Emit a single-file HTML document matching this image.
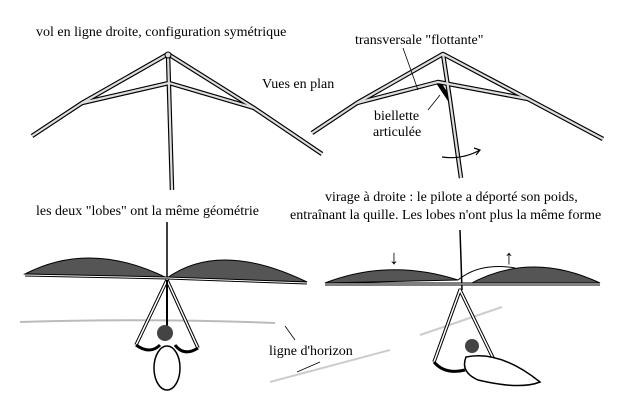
<!DOCTYPE html>
<html><head><meta charset="utf-8"><style>
html,body{margin:0;padding:0;background:#fff;}
svg{display:block;}
svg text{font-family:"Liberation Serif","DejaVu Serif",Times,serif !important;font-size:14px;}
.t{stroke:#000;stroke-width:4.5;fill:none;stroke-linecap:butt;stroke-linejoin:round;}
.w{stroke:#ddd;stroke-width:2.2;fill:none;stroke-linecap:butt;stroke-linejoin:round;}
.tw{stroke:#fff;stroke-width:2.6;fill:none;}
</style></head><body>
<svg width="621" height="400" viewBox="0 0 621 400" xmlns="http://www.w3.org/2000/svg">
<rect width="621" height="400" fill="#fff"/>
<g>
<path class="t" d="M32,136 L82,103 L168,54 L254,108 L322,154"/>
<path class="t" d="M82,103 L169,83 L254,108"/>
<path class="t" d="M168,54 L172,190"/>
<path class="w" d="M32,136 L82,103 L168,54 L254,108 L322,154"/>
<path class="w" d="M82,103 L169,83 L254,108"/>
<path class="w" d="M168,54 L172,190"/>
<circle cx="168" cy="55" r="3" fill="#ddd" stroke="#000"/>
</g>
<g>
<path class="t" d="M312,133 L357,103 L443,54 L528,99 L603,139"/>
<path class="t" d="M357,103 L438,82 L528,99"/>
<path class="t" d="M443,54 L450,100 L461,178"/>
<path class="t" d="M438,82 L450,100"/>
<path class="w" d="M312,133 L357,103 L443,54 L528,99 L603,139"/>
<path class="w" d="M357,103 L438,82 L528,99"/>
<path class="w" d="M443,54 L450,100 L461,178"/>
<path d="M403,48 L418,90" stroke="#000" stroke-width="0.8"/>
<path d="M440,95 L428,110" stroke="#000" stroke-width="0.8"/>
<path d="M442,157 Q462,160 480,150" stroke="#000" stroke-width="1.2" fill="none"/>
<path d="M474,148 L480,150 L476,155" stroke="#000" stroke-width="1.2" fill="none"/>
</g>
<text x="36" y="36">vol en ligne droite, configuration symétrique</text>
<text x="355" y="44">transversale "flottante"</text>
<text x="262" y="88">Vues en plan</text>
<text x="374" y="120">biellette</text>
<text x="373" y="136">articulée</text>
<text x="36" y="215">les deux "lobes" ont la même géométrie</text>
<text x="325" y="201">virage à droite : le pilote a déporté son poids,</text>
<text x="290" y="219">entraînant la quille. Les lobes n'ont plus la même forme</text>
<text x="269" y="355">ligne d'horizon</text>
<text x="389" y="264" style="font-size:20px">↓</text>
<text x="504" y="264" style="font-size:20px">↑</text>
<path d="M20,322 Q150,318 275,323" stroke="#bbb" stroke-width="2" fill="none"/>
<path d="M270,382 L390,350" stroke="#ccc" stroke-width="2" fill="none"/>
<path d="M420,335 L502,307" stroke="#ccc" stroke-width="2" fill="none"/>
<path d="M295,340 L285,326" stroke="#000" stroke-width="0.8"/>
<path d="M320,362 L297,372" stroke="#000" stroke-width="0.8"/>
<path d="M167,222 L167,280" stroke="#000" stroke-width="1.5"/>
<path d="M25,274 Q90,240 167,278 Z" fill="#555" stroke="#000"/>
<path d="M167,278 Q220,240 307,282 Z" fill="#555" stroke="#000"/>
<path d="M25,275 L167,278 L307,283" stroke="#000" stroke-width="3" fill="none"/>
<path d="M25,275 L167,278 L307,283" stroke="#fff" stroke-width="1" fill="none"/>
<path class="t" style="stroke-width:3.5" d="M136,345 L167,280 L198,348"/>
<path class="tw" style="stroke-width:1.5" d="M136,345 L167,280 L198,348"/>
<path d="M167,280 L167,330" stroke="#000" stroke-width="2"/>
<path d="M136,345 Q150,355 160,345 M198,348 Q184,357 175,345" stroke="#000" stroke-width="3" fill="none"/>
<circle cx="165" cy="333" r="8" fill="#444"/>
<ellipse cx="167" cy="368" rx="13" ry="22" fill="#fff" stroke="#000" stroke-width="1.5"/>
<path d="M460,230 L462,290" stroke="#000" stroke-width="1.5"/>
<path d="M325,283 Q390,258 458,280 Z" fill="#555" stroke="#000"/>
<path d="M468,285 Q530,250 600,283 Z" fill="#555" stroke="#000"/>
<path d="M458,280 Q480,262 515,268" stroke="#000" stroke-width="1" fill="none"/>
<path d="M325,284 L600,284" stroke="#000" stroke-width="3" fill="none"/>
<path d="M325,284 L600,284" stroke="#fff" stroke-width="1" fill="none"/>
<path class="t" style="stroke-width:3.5" d="M434,362 L460,290 L495,362"/>
<path class="tw" style="stroke-width:1.5" d="M434,362 L460,290 L495,362"/>
<circle cx="472" cy="346" r="7" fill="#444"/>
<path d="M466,357 Q500,350 540,382 Q520,390 478,380 Q460,372 466,357 Z" fill="#fff" stroke="#000" stroke-width="1.5"/>
<path d="M434,362 Q445,375 465,370" stroke="#000" stroke-width="3" fill="none"/>
</svg>
</body></html>
